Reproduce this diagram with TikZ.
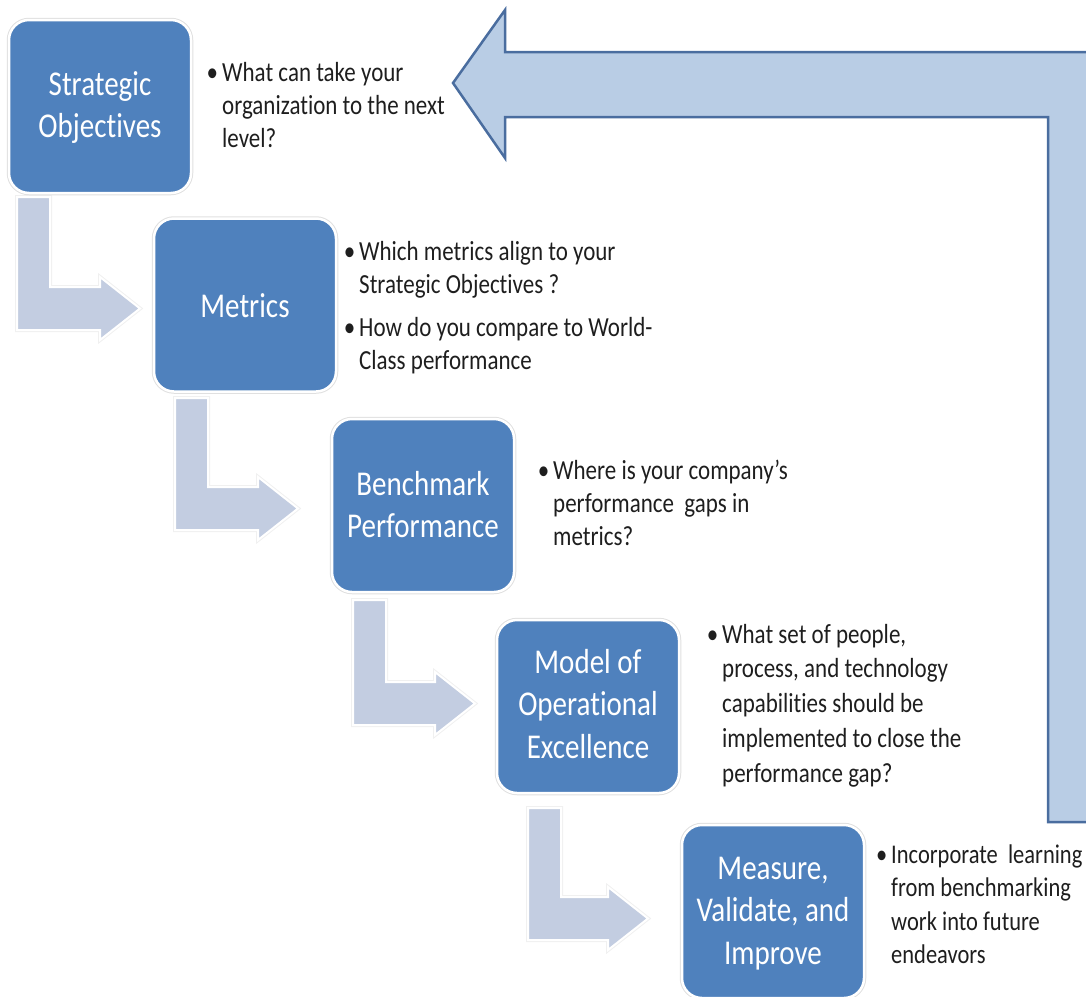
\documentclass[tikz,border=0pt]{standalone}
\usepackage{fontspec}
\setmainfont{Carlito}[Ligatures={NoCommon}]
\usepackage{graphicx}
\definecolor{boxblue}{HTML}{4F81BD}
\definecolor{bentfill}{HTML}{C3CDE1}
\definecolor{loopfill}{HTML}{B9CDE5}
\definecolor{loopline}{HTML}{4A6D9F}
\definecolor{bodytext}{HTML}{1E1E1E}

% text set slightly taller than wide, as in the slide
\newcommand\tallcol[2]{\scalebox{1}[1.2]{\begin{tabular}[t]{@{}#1@{}}#2\end{tabular}}}
\newcommand\bulleted[1]{\llap{•\hspace{4pt}}#1}

% light bent arrow: left x, top y, bottom y, tip x
\newcommand\bentarrow[4]{%
  \path[bentstyle] (#1,#2) -- (#1+33,#2) -- (#1+33,#3-43) -- (#4-40,#3-43)
    -- (#4-40,#3-53) -- (#4,#3-21.5) -- (#4-40,#3+10) -- (#4-40,#3) -- (#1,#3) -- cycle;}

\tikzset{
  stepbox/.style={rectangle, rounded corners=20pt, fill=boxblue, draw=white,
    line width=2.5pt, preaction={draw=black!12, line width=4.5pt},
    minimum width=182pt, minimum height=173pt, inner sep=0pt},
  boxlabel/.style={anchor=base, inner sep=0pt, text=white,
    font=\fontsize{29}{35.8}\selectfont},
  note/.style={anchor=base west, inner sep=0pt, text=bodytext,
    font=\fontsize{23}{27.5}\selectfont},
  bentstyle/.style={fill=bentfill, draw=white, line width=2pt,
    preaction={draw=black!6, line width=4pt}, line join=miter},
  loopstyle/.style={fill=loopfill, draw=loopline, line width=2.5pt, line join=miter},
}

\begin{document}
\begin{tikzpicture}[x=1pt, y=-1pt]
\useasboundingbox (0,0) rectangle (1086,996);
\clip (0,0) rectangle (1086,996);

% feedback arrow running back to the first step
\path[loopstyle] (453,83) -- (505,10) -- (505,52) -- (1114,52) -- (1114,822)
  -- (1048,822) -- (1048,117) -- (505,117) -- (505,158) -- cycle;

% bent arrows between the steps
\bentarrow{17}{197}{330}{140}
\bentarrow{175}{398}{530}{298}
\bentarrow{353}{600}{725}{475}
\bentarrow{528}{808}{940}{648}

% steps
\node[stepbox] (b1) at (100,106.5) {};
\node[stepbox] (b2) at (245,305) {};
\node[stepbox] (b3) at (423,505.5) {};
\node[stepbox] (b4) at (588,706.5) {};
\node[stepbox] (b5) at (773,911.5) {};

\node[boxlabel] (t1) at (100,95) {\tallcol{c}{Strategic\\Objectives}};
\node[boxlabel] (t2) at (245,317) {\tallcol{c}{Metrics}};
\node[boxlabel] (t3) at (423,495) {\tallcol{c}{Benchmark\\Performance}};
\node[boxlabel] (t4) at (588,673) {\tallcol{c}{Model of\\Operational\\Excellence}};
\node[boxlabel] (t5) at (773,879) {\tallcol{c}{Measure,\\Validate, and\\Improve}};

% questions beside each step
\node[note] (n1) at (222,81) {\tallcol{l}{\bulleted{What can take your}\\organization to the next\\level?}};
\node[note] (n2a) at (359,260) {\tallcol{l}{\bulleted{Which metrics align to your}\\Strategic Objectives ?}};
\node[note] (n2b) at (359,336) {\tallcol{l}{\bulleted{How do you compare to World-}\\Class performance}};
\node[note] (n3) at (553,479) {\tallcol{l}{\bulleted{Where is your company’s}\\performance\ \ gaps in\\metrics?}};
\node[note, font=\fontsize{23}{29}\selectfont] (n4) at (722,643) {\tallcol{l}{\bulleted{What set of people,}\\process, and technology\\capabilities should be\\implemented to close the\\performance gap?}};
\node[note, font=\fontsize{22.5}{28}\selectfont] (n5) at (891,863) {\tallcol{l}{\bulleted{Incorporate\ \ learning}\\from benchmarking\\work into future\\endeavors}};
\end{tikzpicture}
\end{document}
